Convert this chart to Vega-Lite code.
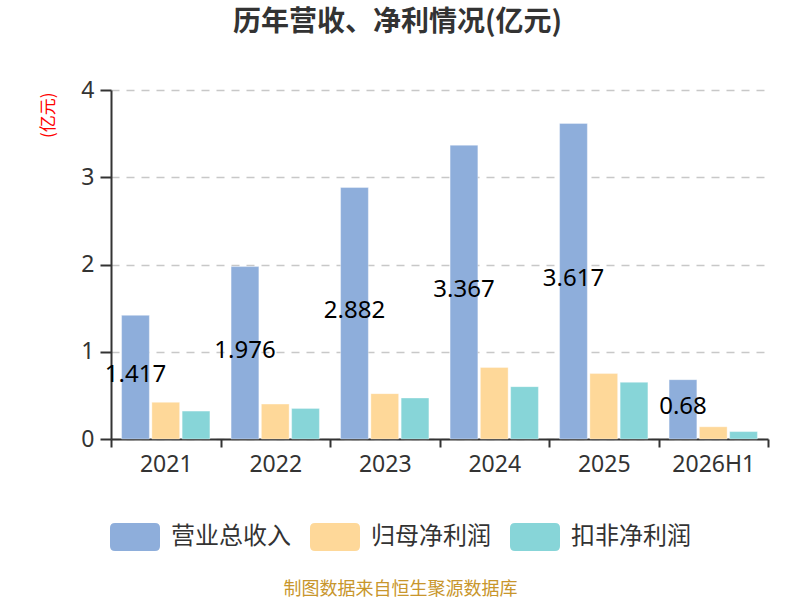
{
  "$schema": "https://vega.github.io/schema/vega-lite/v6.json",
  "width": 657,
  "height": 349,
  "autosize": "none",
  "padding": {"left": 111, "top": 90, "right": 32, "bottom": 161},
  "background": "#ffffff",
  "title": {
    "text": "历年营收、净利情况(亿元)",
    "font": "Noto Sans CJK SC",
    "fontSize": 28,
    "fontWeight": "bold",
    "color": "#333333",
    "anchor": "middle",
    "dx": -42,
    "baseline": "bottom",
    "offset": 14
  },
  "data": {
    "values": [
      {"year": "2021", "series": "营业总收入", "value": 1.417},
      {"year": "2021", "series": "归母净利润", "value": 0.42},
      {"year": "2021", "series": "扣非净利润", "value": 0.32},
      {"year": "2022", "series": "营业总收入", "value": 1.976},
      {"year": "2022", "series": "归母净利润", "value": 0.40},
      {"year": "2022", "series": "扣非净利润", "value": 0.35},
      {"year": "2023", "series": "营业总收入", "value": 2.882},
      {"year": "2023", "series": "归母净利润", "value": 0.52},
      {"year": "2023", "series": "扣非净利润", "value": 0.47},
      {"year": "2024", "series": "营业总收入", "value": 3.367},
      {"year": "2024", "series": "归母净利润", "value": 0.82},
      {"year": "2024", "series": "扣非净利润", "value": 0.60},
      {"year": "2025", "series": "营业总收入", "value": 3.617},
      {"year": "2025", "series": "归母净利润", "value": 0.75},
      {"year": "2025", "series": "扣非净利润", "value": 0.65},
      {"year": "2026H1", "series": "营业总收入", "value": 0.68},
      {"year": "2026H1", "series": "归母净利润", "value": 0.14},
      {"year": "2026H1", "series": "扣非净利润", "value": 0.085}
    ]
  },
  "encoding": {
    "x": {
      "field": "year",
      "type": "nominal",
      "sort": null,
      "scale": {"paddingInner": 0, "paddingOuter": 0},
      "axis": {
        "title": "制图数据来自恒生聚源数据库",
        "titleFont": "Noto Sans CJK SC",
        "titleFontSize": 18,
        "titleFontWeight": "normal",
        "titleColor": "#c8962c",
        "titleX": 289,
        "titleY": 150,
        "titleAlign": "center",
        "titleBaseline": "middle",
        "labelFont": "Noto Sans",
        "labelFontSize": 23,
        "labelColor": "#333333",
        "labelAngle": 0,
        "labelPadding": 6,
        "tickBand": "extent",
        "tickSize": 8,
        "tickWidth": 2,
        "tickColor": "#333333",
        "domainColor": "#333333",
        "domainWidth": 2,
        "grid": false
      }
    },
    "xOffset": {
      "field": "series",
      "type": "nominal",
      "scale": {
        "domain": ["营业总收入", "归母净利润", "扣非净利润"],
        "paddingInner": 0.083,
        "paddingOuter": 0.35
      }
    }
  },
  "layer": [
    {
      "mark": {"type": "bar", "stroke": "#ffffff", "strokeOpacity": 0.35, "strokeWidth": 1},
      "encoding": {
        "y": {
          "field": "value",
          "type": "quantitative",
          "scale": {"domain": [0, 4], "nice": false},
          "axis": {
            "values": [0, 1, 2, 3, 4],
            "title": "(亿元)",
            "titleFont": "Noto Sans CJK SC",
            "titleFontSize": 17,
            "titleFontWeight": "normal",
            "titleColor": "#ff0000",
            "titleAngle": 270,
            "titleAlign": "right",
            "titleBaseline": "middle",
            "titleX": -63,
            "titleY": 2,
            "labelFont": "Noto Sans",
            "labelFontSize": 23,
            "labelColor": "#333333",
            "labelPadding": 6,
            "tickSize": 11,
            "tickWidth": 2,
            "tickColor": "#333333",
            "domainColor": "#333333",
            "domainWidth": 2,
            "grid": true,
            "gridColor": "#c8c8c8",
            "gridWidth": 1.5,
            "gridDash": [8, 7]
          }
        },
        "color": {
          "field": "series",
          "type": "nominal",
          "scale": {
            "domain": ["营业总收入", "归母净利润", "扣非净利润"],
            "range": ["#8eaedb", "#fed899", "#87d5d8"]
          },
          "legend": {
            "title": null,
            "orient": "none",
            "direction": "horizontal",
            "columns": 3,
            "legendX": -1,
            "legendY": 422,
            "symbolType": "M-0.8,-0.56H0.8Q1,-0.56 1,-0.36V0.36Q1,0.56 0.8,0.56H-0.8Q-1,0.56 -1,0.36V-0.36Q-1,-0.56 -0.8,-0.56Z",
            "symbolSize": 2500,
            "symbolStrokeWidth": 0,
            "symbolOpacity": 1,
            "labelFont": "Noto Sans CJK SC",
            "labelFontSize": 24,
            "labelColor": "#333333",
            "labelOffset": 11,
            "labelLimit": 300,
            "columnPadding": 19
          }
        }
      }
    },
    {
      "transform": [{"filter": "datum.series === '营业总收入'"}],
      "mark": {"type": "text", "font": "Noto Sans", "fontSize": 24, "color": "#000000", "baseline": "middle", "align": "center", "dy": -2},
      "encoding": {
        "y": {
          "field": "value",
          "type": "quantitative",
          "scale": {"domain": [0, 8], "nice": false},
          "axis": null
        },
        "text": {"field": "value", "type": "quantitative"}
      }
    }
  ],
  "resolve": {"scale": {"y": "independent"}},
  "config": {
    "view": {"stroke": null}
  }
}
